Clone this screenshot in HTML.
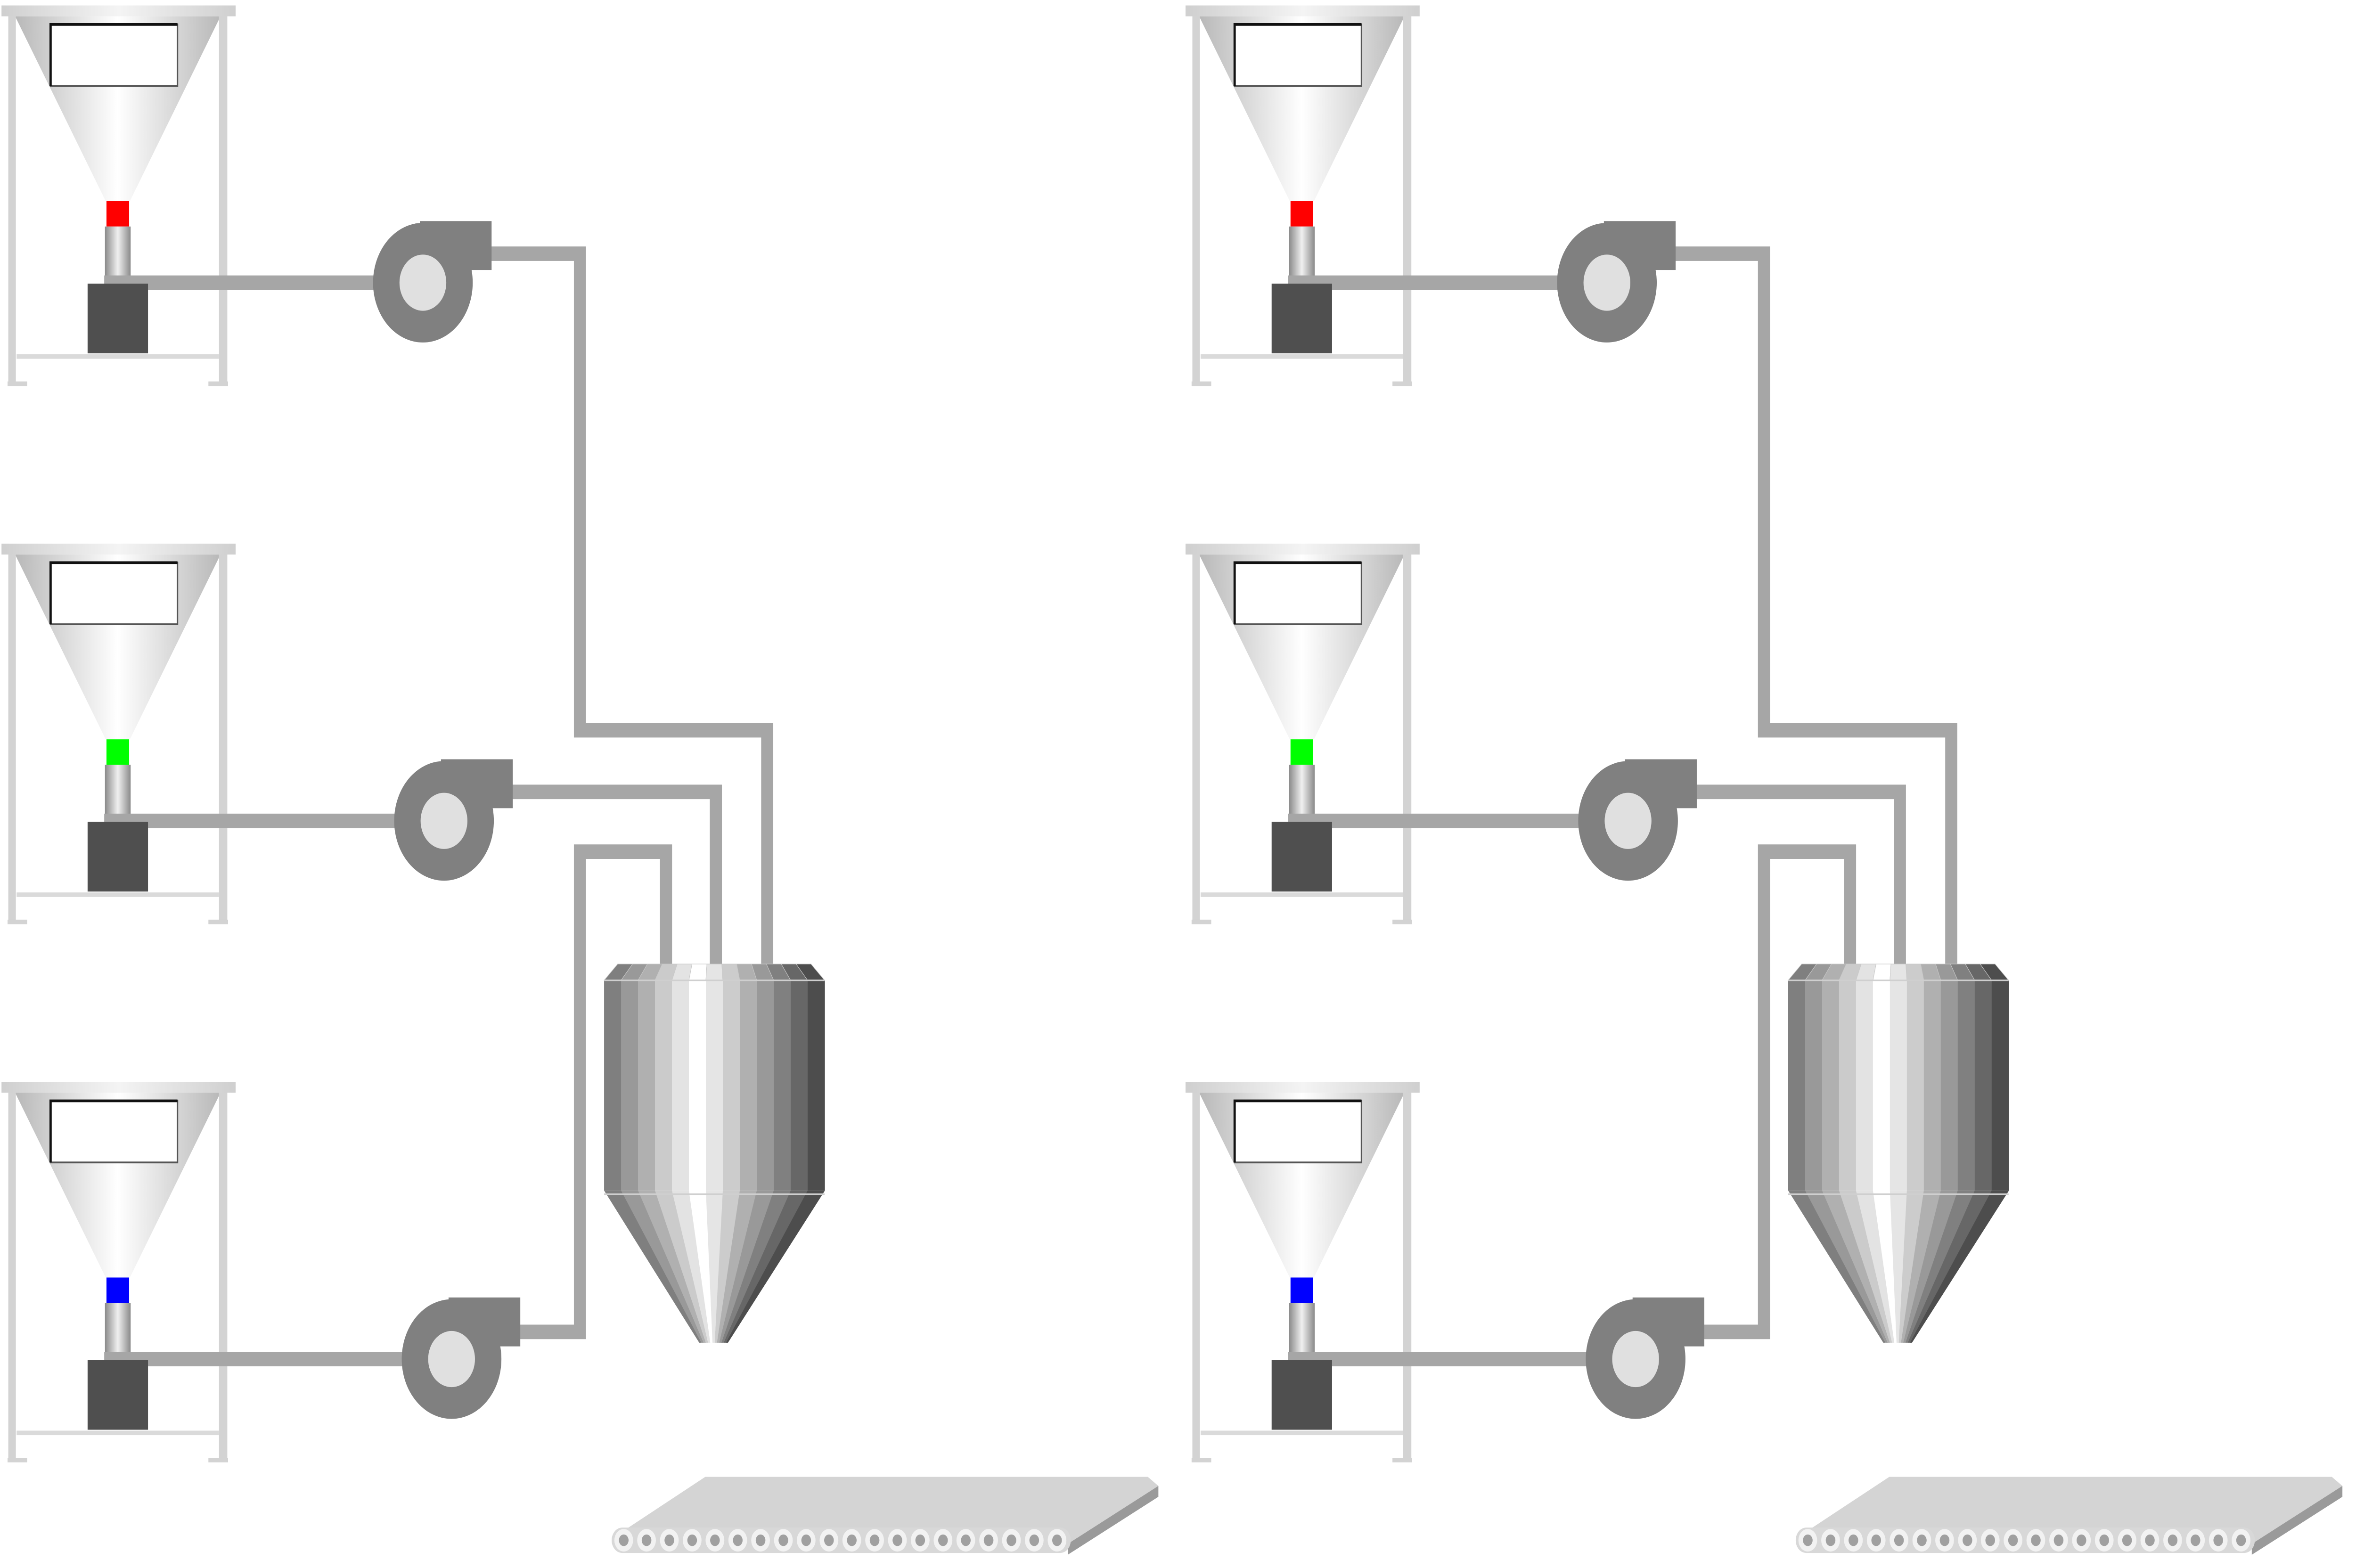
<!DOCTYPE html>
<html><head><meta charset="utf-8"><style>html,body{margin:0;padding:0;background:#fff;overflow:hidden;width:100vw;height:100vh;}svg{display:block;width:100vw;height:100vh;}</style></head>
<body>
<svg id="root" viewBox="0 0 1560 865.3" preserveAspectRatio="none" xmlns="http://www.w3.org/2000/svg">
<defs>
<linearGradient id="funnel" x1="0" x2="1" y1="0" y2="0"><stop offset="0" stop-color="#b8b8b8"/><stop offset="0.5" stop-color="#ffffff"/><stop offset="1" stop-color="#b8b8b8"/></linearGradient>
<linearGradient id="rim" x1="0" x2="1"><stop offset="0" stop-color="#cfcfcf"/><stop offset="0.5" stop-color="#f4f4f4"/><stop offset="1" stop-color="#cfcfcf"/></linearGradient>
<linearGradient id="cyl" x1="0" x2="1"><stop offset="0" stop-color="#8a8a8a"/><stop offset="0.5" stop-color="#f0f0f0"/><stop offset="1" stop-color="#8a8a8a"/></linearGradient>
</defs>
<rect x="0" y="0" width="1560" height="865.3" fill="#fff"/>
</svg>
<script>
const unitOffsets = [0, 784];
const lineOffsets = [0, 297, 594];
const valveColors = ['#ff0000', '#00ff00', '#0000ff'];
const pumpX = [280, 294, 299];
const stripColors = ['#7f7f7f','#999999','#b0b0b0','#cbcbcb','#e3e3e3','#ffffff','#e5e5e5','#cccccc','#b0b0b0','#999999','#808080','#676767','#4d4d4d'];
const NS='http://www.w3.org/2000/svg';
const root=document.getElementById('root');
function mk(tag, attrs, parent){const e=document.createElementNS(NS,tag);for(const k in attrs)e.setAttribute(k,attrs[k]);(parent||root).appendChild(e);return e;}
unitOffsets.forEach((dx,u)=>{
  const g=mk('g',{transform:'translate('+dx+',0)'});
  
  
  const P='#a6a6a6', W=8;
  const p1=mk('polyline',{points:'320,140 384,140 384,403 508,403 508,534',fill:'none',stroke:P,'stroke-width':W},g);
  
  
  const p2=mk('polyline',{points:'335,437 474,437 474,534',fill:'none',stroke:P,'stroke-width':W},g);
  
  
  const p3=mk('polyline',{points:'340,735 384,735 384,470 441,470 441,534',fill:'none',stroke:P,'stroke-width':W},g);
  
  
  lineOffsets.forEach((dy,i)=>{
    const h=mk('g',{transform:'translate(0,'+dy+')'},g);
    
    
    mk('polygon',{points:'10,9 146,9 86,111 70,111',fill:'url(#funnel)'},h);
    mk('rect',{x:5.5,y:8,width:5,height:204,fill:'#d3d3d3'},h);
    mk('rect',{x:145,y:8,width:5.5,height:204,fill:'#d3d3d3'},h);
    mk('rect',{x:5,y:210.5,width:13,height:2.5,fill:'#d3d3d3'},h);
    mk('rect',{x:138,y:210.5,width:13,height:2.5,fill:'#d3d3d3'},h);
    mk('rect',{x:11,y:195.5,width:134,height:2.5,fill:'#dadada'},h);
    mk('rect',{x:1,y:3,width:155,height:6,fill:'url(#rim)'},h);
    const disp=mk('rect',{x:33.5,y:13.5,width:84,height:34,fill:'#fff',stroke:'#555','stroke-width':1},h);
    
    
    mk('polyline',{points:'33.5,47.5 33.5,13.5 117.5,13.5',fill:'none',stroke:'#111','stroke-width':1.5},h);
    const v=mk('rect',{x:70.5,y:111,width:15,height:14,fill:valveColors[i]},h);
    
    
    mk('rect',{x:69.5,y:125,width:17,height:28,fill:'url(#cyl)'},h);
    mk('rect',{x:69,y:152,width:pumpX[i]-69,height:8,fill:P},h);
    const m=mk('rect',{x:58,y:156.5,width:40,height:38.5,fill:'#4f4f4f'},h);
    
    
    const px=pumpX[i];
    const pg=mk('g',{},h);
    
    
    mk('rect',{x:px-2,y:122,width:47.5,height:27,fill:'#808080'},pg);
    mk('circle',{cx:px,cy:156,r:33,fill:'#808080'},pg);
    mk('circle',{cx:px,cy:156,r:15.5,fill:'#e0e0e0'},pg);
  });
  const mx=mk('g',{},g);
  
  
  const x0=400,x1=546,n=stripColors.length,tipL=463,tipR=482,topL=409,topR=537;
  stripColors.forEach((c,k)=>{
    const a=x0+(x1-x0)*k/n,b=x0+(x1-x0)*(k+1)/n;
    const ta=tipL+(tipR-tipL)*k/n,tb=tipL+(tipR-tipL)*(k+1)/n;
    const ca=topL+(topR-topL)*k/n,cb=topL+(topR-topL)*(k+1)/n;
    mk('polygon',{points:ca+',532 '+cb+',532 '+b+',541 '+a+',541',fill:c,stroke:'#c8c8c8','stroke-width':0.3},mx);
    mk('rect',{x:a,y:541,width:b-a+0.2,height:116,fill:c},mx);
    mk('polygon',{points:a+',657 '+(b+0.2)+',657 '+tb+',741 '+ta+',741',fill:c},mx);
  });
  mk('line',{x1:x0,y1:541,x2:x1,y2:541,stroke:'#cfcfcf','stroke-width':0.8},mx);
  mk('line',{x1:x0,y1:659,x2:x1,y2:659,stroke:'#cfcfcf','stroke-width':0.8},mx);
  const cv=mk('g',{},g);
  
  
  mk('polygon',{points:'407,848 467,815 760,815 767,820 707,852',fill:'#d4d4d4'},cv);
  mk('polygon',{points:'707,852 767,820 767,826 707,858',fill:'#9a9a9a'},cv);
  mk('rect',{x:405,y:843,width:304,height:14,rx:7,fill:'#d8d8d8'},cv);
  for(let k=0;k<20;k++){
    const cx=413+k*15.1;
    mk('circle',{cx:cx,cy:850,r:6.2,fill:'#f2f2f2'},cv);
    mk('circle',{cx:cx,cy:850,r:3.2,fill:'#a0a0a0'},cv);
  }
});
</script>
</body></html>
